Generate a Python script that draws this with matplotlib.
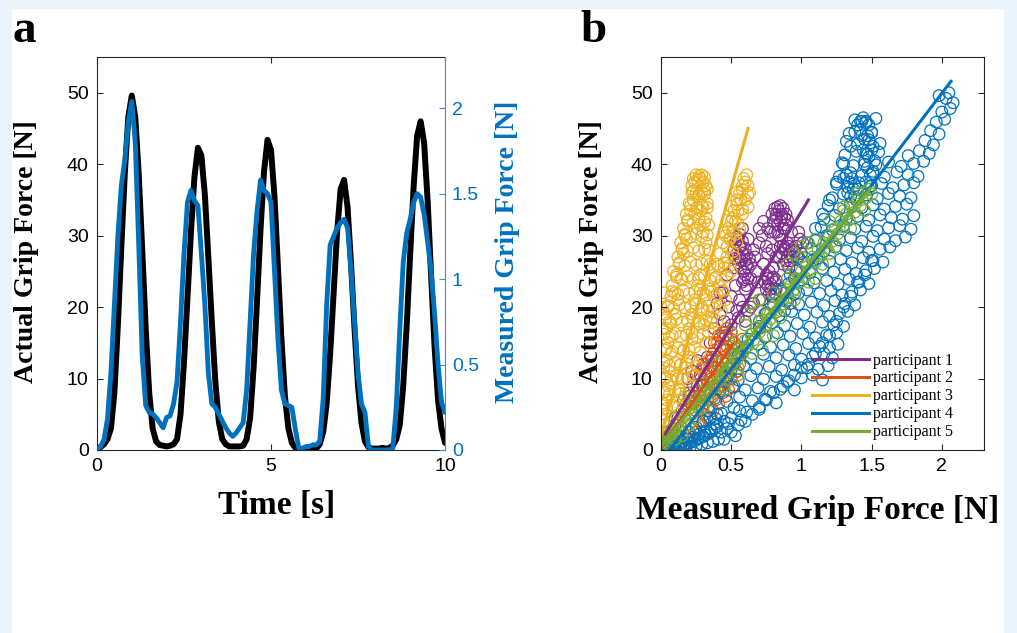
import matplotlib.pyplot as plt
from matplotlib.patches import Rectangle

# ---- panel a: time traces ----
time_s = [round(0.1 * i, 1) for i in range(101)]

actual_force = [
    0.2, 0.4, 0.8, 1.5, 3.0, 8.0, 17.5, 28.5, 38.8, 46.6,
    49.6, 46.6, 38.5, 28.0, 17.0, 8.0, 3.0, 1.2, 0.7, 0.6,
    0.5, 0.6, 0.8, 1.5, 5.0, 12.3, 21.3, 30.5, 38.2, 42.3,
    41.2, 35.7, 26.9, 17.9, 9.6, 4.0, 1.5, 0.8, 0.5, 0.5,
    0.5, 0.5, 0.6, 1.5, 4.5, 11.5, 21.0, 31.0, 39.0, 43.4,
    42.0, 35.5, 25.5, 15.5, 7.5, 3.0, 1.0, 0.3, 0.0, 0.0,
    0.0, 0.0, 0.1, 0.2, 0.8, 2.5, 6.5, 13.5, 22.0, 30.5,
    36.5, 37.8, 34.0, 26.0, 17.0, 9.0, 3.8, 1.2, 0.4, 0.2,
    0.2, 0.2, 0.3, 0.2, 0.3, 0.6, 1.5, 3.5, 9.0, 17.5,
    27.5, 37.0, 44.0, 46.0, 43.0, 35.0, 24.5, 14.5, 7.0, 3.0,
    1.0,
]

measured_force = [
    0.00, 0.02, 0.06, 0.18, 0.45, 0.85, 1.25, 1.55, 1.70, 1.92,
    2.04, 1.80, 1.20, 0.55, 0.26, 0.22, 0.21, 0.19, 0.16, 0.13,
    0.19, 0.20, 0.27, 0.40, 0.75, 1.15, 1.45, 1.52, 1.46, 1.43,
    1.15, 0.85, 0.45, 0.27, 0.25, 0.21, 0.17, 0.13, 0.10, 0.08,
    0.10, 0.13, 0.16, 0.35, 0.75, 1.15, 1.40, 1.58, 1.52, 1.50,
    1.45, 1.05, 0.65, 0.35, 0.27, 0.26, 0.25, 0.12, 0.01, 0.01,
    0.02, 0.02, 0.03, 0.03, 0.05, 0.30, 0.85, 1.20, 1.25, 1.30,
    1.33, 1.35, 1.30, 1.05, 0.75, 0.45, 0.27, 0.22, 0.02, 0.00,
    0.00, 0.00, 0.00, 0.00, 0.00, 0.01, 0.25, 0.70, 1.10, 1.27,
    1.35, 1.45, 1.50, 1.48, 1.38, 1.22, 1.05, 0.80, 0.50, 0.28,
    0.22,
]

# ---- panel b: actual vs measured per participant ----
p1_x = [0.02, 0.05, 0.08, 0.12, 0.15, 0.18, 0.20, 0.23, 0.25, 0.28, 0.30, 0.33, 0.22, 0.26, 0.19,
        0.38, 0.42, 0.45, 0.48, 0.50, 0.44, 0.40, 0.47, 0.53, 0.56, 0.60, 0.64, 0.67, 0.70, 0.73,
        0.62, 0.66, 0.69, 0.72, 0.76, 0.58, 0.52, 0.55,
        0.53, 0.55, 0.57, 0.54, 0.56, 0.58, 0.60, 0.57, 0.59, 0.61, 0.62, 0.60, 0.58, 0.62, 0.56,
        0.52, 0.54, 0.56, 0.58, 0.60, 0.61, 0.63, 0.59, 0.61, 0.55, 0.57, 0.53,
        0.80, 0.82, 0.84, 0.86, 0.88, 0.83, 0.85, 0.87, 0.81, 0.89, 0.84, 0.86,
        0.79, 0.81, 0.83, 0.85, 0.87, 0.89, 0.90, 0.82, 0.86, 0.88, 0.83,
        0.75, 0.77, 0.79, 0.81, 0.76, 0.78, 0.80, 0.82, 0.79,
        0.74, 0.76, 0.78, 0.80, 0.82, 0.77, 0.81, 0.75,
        0.84, 0.86, 0.88, 0.90, 0.92, 0.87, 0.89, 0.91, 0.94,
        0.85, 0.87, 0.89, 0.91, 0.93, 0.95, 0.90, 0.92,
        0.72, 0.75, 0.78, 0.90, 0.93, 0.96, 0.99, 1.01, 0.97, 0.95, 0.70, 0.74, 0.88, 0.92,
        0.42, 0.46, 0.50, 0.54, 0.60, 0.64, 0.68, 0.66, 0.70, 0.73, 0.76, 0.79, 0.82, 0.96, 0.98,
        1.00, 0.62, 0.58, 0.64, 0.70, 0.45, 0.35, 0.30, 0.25, 0.16, 0.10]
p1_y = [1.0, 2.0, 3.0, 4.5, 5.5, 6.5, 8.0, 9.0, 7.0, 10.5, 12.0, 13.0, 11.0, 12.5, 10.0,
        17.0, 19.0, 18.0, 20.0, 21.5, 22.0, 20.5, 24.5, 23.0, 21.0, 22.5, 24.0, 27.0, 29.0, 26.0,
        19.5, 20.5, 23.5, 21.0, 27.5, 20.0, 25.5, 18.5,
        29.0, 29.5, 28.5, 27.5, 27.0, 27.5, 26.5, 25.5, 25.0, 26.0, 25.5, 24.5, 23.5, 24.0, 28.5,
        28.0, 29.8, 30.2, 29.2, 28.2, 27.3, 26.8, 23.8, 23.0, 26.2, 26.5, 26.8,
        32.0, 33.0, 33.5, 33.0, 32.5, 31.5, 32.0, 31.0, 30.5, 31.5, 30.0, 29.5,
        33.0, 33.8, 34.0, 34.2, 33.8, 33.0, 32.2, 32.5, 32.5, 31.0, 30.5,
        24.5, 25.0, 24.0, 23.5, 23.0, 22.5, 25.5, 22.5, 21.5,
        23.5, 24.0, 23.2, 24.2, 23.8, 21.8, 22.0, 22.5,
        27.0, 27.5, 28.0, 27.0, 27.5, 26.0, 26.5, 25.5, 27.0,
        28.5, 28.6, 28.2, 28.5, 28.0, 27.8, 26.0, 26.5,
        30.0, 28.5, 30.5, 29.0, 30.5, 28.5, 29.5, 29.0, 27.0, 24.0, 17.0, 19.0, 22.0, 20.5,
        22.0, 16.0, 17.5, 19.5, 18.0, 20.0, 25.0, 28.0, 31.0, 32.0, 31.0, 28.0, 27.0, 25.0, 30.5,
        27.5, 29.5, 31.0, 26.0, 21.0, 14.0, 15.0, 9.0, 10.5, 7.0, 3.5]

p2_x = [0.40, 0.42, 0.44, 0.46, 0.48, 0.50, 0.52, 0.45, 0.47, 0.49, 0.51, 0.53, 0.38, 0.40, 0.42,
        0.44, 0.46, 0.48, 0.50, 0.36, 0.38, 0.40, 0.42, 0.44, 0.46, 0.34, 0.36, 0.38, 0.40, 0.42,
        0.44, 0.31, 0.33, 0.35, 0.37, 0.39, 0.41, 0.29, 0.31, 0.33, 0.35, 0.37, 0.27, 0.29, 0.31,
        0.33, 0.25, 0.27, 0.29, 0.23, 0.25, 0.20, 0.22, 0.18, 0.15, 0.12, 0.08, 0.05, 0.02, 0.54,
        0.48,
        0.55, 0.57, 0.56, 0.52, 0.54, 0.50, 0.52, 0.48, 0.46, 0.43, 0.39, 0.36, 0.34, 0.32, 0.30,
        0.28, 0.26, 0.24, 0.22, 0.44, 0.41, 0.47, 0.50, 0.38, 0.58]
p2_y = [15.0, 16.0, 16.5, 16.0, 15.5, 16.5, 15.0, 14.0, 14.5, 13.5, 14.0, 13.0, 14.0, 13.0, 14.5,
        12.5, 12.0, 11.5, 12.0, 12.5, 11.5, 11.0, 10.5, 10.0, 9.5, 11.0, 10.0, 9.0, 8.5, 9.0,
        8.0, 10.5, 9.5, 8.0, 7.5, 7.0, 6.5, 9.0, 8.0, 7.0, 6.0, 5.5, 7.5, 6.0, 5.0,
        4.5, 5.5, 4.0, 3.5, 3.0, 2.5, 2.0, 1.5, 1.5, 1.0, 0.8, 0.6, 0.4, 0.2, 11.0,
        10.5,
        14.5, 13.5, 12.0, 12.0, 11.0, 10.0, 9.0, 8.5, 7.5, 11.5, 12.5, 13.0, 12.5, 12.0, 11.5,
        10.5, 9.0, 7.5, 6.5, 15.5, 16.0, 17.0, 15.5, 15.0, 15.5]

p3_x = [0.00, 0.01, 0.02, 0.03, 0.01, 0.02, 0.04, 0.03, 0.05, 0.02, 0.04, 0.06, 0.03, 0.05, 0.07,
        0.04, 0.06, 0.08, 0.05, 0.07,
        0.08, 0.10, 0.09, 0.11, 0.12, 0.10, 0.13, 0.14, 0.12, 0.15, 0.16, 0.14, 0.17, 0.18, 0.16,
        0.19, 0.20, 0.18, 0.21, 0.22,
        0.22, 0.23, 0.24, 0.25, 0.26, 0.27, 0.28, 0.29, 0.30, 0.31, 0.32, 0.33, 0.23, 0.25, 0.27,
        0.29, 0.31, 0.33, 0.24, 0.26, 0.28, 0.30, 0.32, 0.34, 0.26, 0.28, 0.30, 0.32, 0.34, 0.35,
        0.20, 0.22, 0.24, 0.26, 0.28, 0.30, 0.27, 0.29, 0.31, 0.33, 0.35, 0.32, 0.34, 0.36, 0.38,
        0.12, 0.14, 0.16, 0.18, 0.20, 0.22, 0.24, 0.10, 0.13, 0.17,
        0.38, 0.40, 0.42, 0.41, 0.44, 0.46, 0.45, 0.48, 0.47, 0.50, 0.49, 0.52, 0.51, 0.54, 0.53,
        0.56, 0.55, 0.58, 0.57, 0.59, 0.60, 0.61, 0.62, 0.63, 0.58, 0.60, 0.62, 0.56, 0.54, 0.52,
        0.50, 0.46, 0.43, 0.40,
        0.01, 0.03, 0.00, 0.02,
        0.03, 0.07, 0.11, 0.02, 0.06, 0.10, 0.14, 0.01, 0.04, 0.08, 0.12, 0.16,
        0.02, 0.06, 0.10, 0.14, 0.18, 0.03, 0.07, 0.11, 0.15, 0.19, 0.23,
        0.02, 0.06, 0.10, 0.14, 0.18, 0.22, 0.26, 0.04, 0.08, 0.12, 0.16, 0.20, 0.24, 0.28,
        0.02, 0.06, 0.10, 0.14, 0.18, 0.22, 0.26, 0.30,
        0.03, 0.07, 0.11, 0.15, 0.19, 0.23, 0.27, 0.32, 0.36,
        0.05, 0.09, 0.13, 0.17, 0.21, 0.25, 0.29, 0.34, 0.38, 0.42,
        0.08, 0.12, 0.16, 0.20, 0.24, 0.28, 0.32, 0.36, 0.40, 0.44,
        0.11, 0.15, 0.19, 0.23, 0.27, 0.31, 0.35, 0.39, 0.43, 0.47,
        0.13, 0.17, 0.21, 0.25, 0.29, 0.33, 0.41, 0.45, 0.49,
        0.15, 0.19, 0.23, 0.27, 0.31, 0.47, 0.51,
        0.17, 0.21, 0.25, 0.29, 0.33, 0.45, 0.49, 0.53,
        0.19, 0.23, 0.27, 0.31, 0.47, 0.51, 0.55,
        0.21, 0.25, 0.29, 0.33, 0.50, 0.54, 0.58,
        0.23, 0.27, 0.31, 0.54, 0.58, 0.62]
p3_y = [0.5, 2.0, 3.5, 5.0, 6.5, 8.0, 7.0, 10.0, 9.0, 11.5, 12.5, 11.0, 14.0, 15.0, 13.5,
        17.0, 18.0, 16.0, 20.0, 21.5,
        23.0, 22.0, 25.0, 24.5, 27.0, 19.0, 26.0, 29.0, 21.0, 28.0, 31.0, 24.0, 30.0, 33.0, 27.5,
        32.0, 34.5, 29.5, 33.5, 36.0,
        37.0, 38.0, 37.5, 38.5, 37.8, 38.3, 38.0, 38.5, 37.5, 38.2, 37.0, 36.5, 35.0, 36.0, 35.5,
        36.2, 35.8, 34.5, 33.0, 34.0, 33.5, 34.0, 32.5, 31.5, 31.0, 31.5, 30.5, 29.0, 28.0, 26.0,
        17.0, 19.0, 21.0, 23.0, 24.5, 22.0, 18.0, 20.0, 17.5, 19.5, 22.5, 15.0, 16.5, 18.5, 21.5,
        10.0, 12.0, 14.0, 11.5, 13.0, 15.5, 10.5, 6.0, 8.5, 7.5,
        24.0, 26.0, 27.5, 23.0, 29.0, 30.0, 25.5, 31.0, 27.0, 32.0, 29.5, 33.5, 30.5, 35.0, 32.0,
        36.0, 33.5, 37.0, 35.0, 38.0, 37.5, 38.5, 37.0, 36.0, 33.0, 35.0, 34.0, 31.0, 29.0, 27.0,
        25.0, 21.0, 19.5, 18.0,
        17.0, 19.0, 20.0, 22.0,
        2.2, 1.8, 2.3, 4.1, 3.8, 4.3, 3.9, 6.2, 5.8, 6.3, 5.9, 6.1,
        8.2, 7.8, 8.3, 7.9, 8.1, 10.2, 9.8, 10.3, 9.9, 10.1, 10.4,
        12.2, 11.8, 12.3, 11.9, 12.1, 12.4, 11.7, 14.2, 13.8, 14.3, 13.9, 14.1, 14.4, 13.7,
        16.2, 15.8, 16.3, 15.9, 16.1, 16.4, 15.7, 16.2,
        18.2, 17.8, 18.3, 17.9, 18.1, 18.4, 17.7, 18.2, 17.8,
        20.2, 19.8, 20.3, 19.9, 20.1, 20.4, 19.7, 20.2, 19.8, 20.3,
        22.2, 21.8, 22.3, 21.9, 22.1, 22.4, 21.7, 22.2, 21.8, 22.3,
        24.2, 23.8, 24.3, 23.9, 24.1, 24.4, 23.7, 24.2, 23.8, 24.3,
        26.2, 25.8, 26.3, 25.9, 26.1, 26.4, 25.7, 26.2, 25.8,
        28.2, 27.8, 28.3, 27.9, 28.1, 28.4, 27.7,
        30.2, 29.8, 30.3, 29.9, 30.1, 30.4, 29.7, 30.2,
        32.2, 31.8, 32.3, 31.9, 32.1, 32.4, 31.7,
        34.2, 33.8, 34.3, 33.9, 34.1, 34.4, 33.7,
        36.2, 35.8, 36.3, 36.1, 36.4, 35.7]

p4_x = [0.00, 0.02, 0.04, 0.06, 0.08, 0.10, 0.12, 0.14, 0.16, 0.18, 0.20, 0.22, 0.24, 0.26, 0.28,
        0.30, 0.32, 0.34, 0.36, 0.38, 0.40, 0.05, 0.10, 0.15, 0.20, 0.25, 0.30, 0.35, 0.40, 0.45,
        0.01, 0.03, 0.05, 0.07, 0.09, 0.11, 0.13, 0.15, 0.17, 0.19, 0.21, 0.23, 0.25, 0.27, 0.29,
        0.31, 0.33, 0.35, 0.37, 0.39, 0.41, 0.43, 0.47, 0.50, 0.53, 0.56,
        0.45, 0.50, 0.55, 0.60, 0.65, 0.70, 0.75, 0.80, 0.85, 0.90, 0.95, 1.00, 1.05, 1.10, 1.15,
        1.20, 1.25, 1.30, 1.35, 1.40, 1.45, 1.50,
        0.55, 0.62, 0.70, 0.78, 0.85, 0.92, 0.98, 1.04, 1.10, 1.15, 1.20, 1.25, 1.30, 1.35, 1.38,
        1.40, 1.43, 1.18, 1.08, 0.98, 0.88,
        1.42, 1.44, 1.46, 1.48, 1.50, 1.43, 1.45, 1.47, 1.49, 1.51, 1.44, 1.46, 1.48, 1.50, 1.52,
        1.45, 1.47, 1.49, 1.51, 1.46, 1.48, 1.50, 1.30, 1.32, 1.34, 1.36, 1.38, 1.40, 1.33, 1.35,
        1.37, 1.39,
        0.30, 0.39, 0.48, 0.57,
        0.34, 0.43, 0.52, 0.61, 0.70,
        0.38, 0.47, 0.56, 0.65, 0.74, 0.82,
        0.42, 0.51, 0.60, 0.69, 0.78, 0.87, 0.95,
        0.46, 0.55, 0.64, 0.73, 0.82, 0.91, 1.00, 1.08, 1.15,
        0.50, 0.59, 0.68, 0.77, 0.86, 0.95, 1.04, 1.12, 1.19,
        0.55, 0.64, 0.73, 0.82, 0.91, 1.00, 1.08, 1.16, 1.22,
        0.60, 0.69, 0.78, 0.87, 0.96, 1.05, 1.13, 1.20, 1.26,
        0.65, 0.74, 0.83, 0.92, 1.01, 1.10, 1.18, 1.25,
        0.70, 0.79, 0.88, 0.97, 1.06, 1.15, 1.23, 1.30,
        0.75, 0.84, 0.93, 1.02, 1.11, 1.20, 1.27, 1.33,
        0.80, 0.89, 0.98, 1.07, 1.16, 1.24, 1.31, 1.38,
        0.86, 0.95, 1.04, 1.13, 1.21, 1.29, 1.36, 1.42,
        0.91, 1.00, 1.09, 1.18, 1.26, 1.34, 1.41, 1.48,
        0.97, 1.06, 1.15, 1.23, 1.31, 1.39, 1.46, 1.52,
        1.02, 1.11, 1.20, 1.28, 1.36, 1.44, 1.51, 1.58,
        1.07, 1.16, 1.24, 1.32, 1.40, 1.48, 1.56, 1.63,
        1.10, 1.19, 1.27, 1.35, 1.43, 1.51, 1.59, 1.67, 1.74,
        1.14, 1.22, 1.30, 1.38, 1.46, 1.54, 1.62, 1.70, 1.78,
        1.16, 1.24, 1.32, 1.40, 1.48, 1.56, 1.64, 1.72, 1.80,
        1.19, 1.27, 1.35, 1.43, 1.51, 1.59, 1.67, 1.75,
        1.22, 1.30, 1.38, 1.46, 1.54, 1.62, 1.70, 1.78,
        1.25, 1.33, 1.41, 1.49, 1.57, 1.65, 1.73, 1.80,
        1.27, 1.35, 1.43, 1.51, 1.59, 1.68, 1.76, 1.83,
        1.29, 1.37, 1.45, 1.53, 1.62, 1.71, 1.80, 1.87,
        1.31, 1.39, 1.47, 1.55, 1.76, 1.84, 1.91,
        1.32, 1.40, 1.48, 1.56, 1.88, 1.94,
        1.34, 1.42, 1.50, 1.92, 1.98,
        1.38, 1.46, 1.53, 1.96, 2.02,
        2.00, 2.06, 2.03, 2.08, 2.05, 1.98]
p4_y = [0.0, 0.1, 0.2, 0.2, 0.3, 0.4, 0.5, 0.6, 0.7, 0.8, 1.0, 1.1, 1.3, 1.5, 1.7,
        1.9, 2.1, 2.4, 2.7, 3.0, 3.3, 0.8, 1.2, 1.8, 2.5, 3.2, 4.0, 4.5, 5.0, 4.0,
        0.5, 0.8, 0.3, 0.9, 0.2, 1.0, 0.3, 1.2, 0.4, 1.5, 0.5, 1.8, 0.6, 2.2, 0.8,
        2.6, 1.0, 3.0, 1.2, 3.6, 1.5, 2.5, 3.0, 4.5, 2.0, 5.5,
        1.5, 2.5, 3.5, 4.0, 5.0, 6.0, 7.0, 8.0, 8.5, 9.5, 10.5, 11.5, 12.0, 13.5, 15.0,
        16.0, 18.0, 20.0, 21.5, 23.5, 24.5, 26.5,
        13.5, 15.5, 18.0, 20.5, 22.5, 24.5, 27.0, 29.0, 31.0, 33.0, 35.0, 37.5, 40.0, 42.5, 44.5,
        45.5, 46.0, 30.0, 26.5, 22.0, 19.5,
        46.0, 46.5, 46.0, 45.5, 44.5, 44.0, 43.5, 44.0, 43.0, 42.5, 42.0, 41.5, 41.0, 42.0, 40.5,
        40.0, 39.5, 38.5, 39.0, 37.5, 36.5, 37.0, 38.0, 38.5, 37.5, 38.0, 37.0, 36.5, 36.0, 35.5,
        36.5, 35.0,
        4.0, 4.4, 3.7, 4.2,
        5.5, 5.1, 5.9, 5.3, 5.7,
        7.2, 6.8, 7.4, 6.9, 7.1, 6.6,
        8.3, 8.8, 8.4, 8.7, 8.2, 8.9, 8.4,
        10.2, 9.8, 10.4, 9.9, 10.3, 9.7, 10.1, 10.5, 9.8,
        11.3, 11.8, 11.4, 11.7, 11.2, 11.9, 11.5, 11.3, 11.8,
        13.2, 12.8, 13.4, 12.9, 13.3, 12.7, 13.1, 13.5, 12.9,
        14.3, 14.8, 14.4, 14.7, 14.2, 14.9, 14.5, 14.3, 14.8,
        16.2, 15.8, 16.4, 15.9, 16.3, 15.7, 16.1, 16.4,
        17.3, 17.8, 17.4, 17.7, 17.2, 17.9, 17.5, 17.3,
        19.2, 18.8, 19.4, 18.9, 19.3, 18.7, 19.1, 19.4,
        20.3, 20.8, 20.4, 20.7, 20.2, 20.9, 20.5, 20.3,
        22.2, 21.8, 22.4, 21.9, 22.3, 21.7, 22.1, 22.4,
        23.3, 23.8, 23.4, 23.7, 23.2, 23.9, 23.5, 23.3,
        25.2, 24.8, 25.4, 24.9, 25.3, 24.7, 25.1, 25.4,
        26.3, 26.8, 26.4, 26.7, 26.2, 26.9, 26.5, 26.3,
        28.2, 27.8, 28.4, 27.9, 28.3, 27.7, 28.1, 28.4,
        29.3, 29.8, 29.4, 29.7, 29.2, 29.9, 29.5, 29.3, 29.8,
        31.2, 30.8, 31.4, 30.9, 31.3, 30.7, 31.1, 31.4, 30.9,
        32.3, 32.8, 32.4, 32.7, 32.2, 32.9, 32.5, 32.3, 32.8,
        34.2, 33.8, 34.4, 33.9, 34.3, 33.7, 34.1, 34.4,
        35.3, 35.8, 35.4, 35.7, 35.2, 35.9, 35.5, 35.3,
        37.2, 36.8, 37.4, 36.9, 37.3, 36.7, 37.1, 37.4,
        38.3, 38.8, 38.4, 38.7, 38.2, 38.9, 38.5, 38.3,
        40.2, 39.8, 40.4, 39.9, 40.3, 39.7, 40.1, 40.4,
        41.3, 41.8, 41.4, 41.7, 41.2, 41.9, 41.5,
        43.2, 42.8, 43.4, 42.9, 43.3, 42.7,
        44.3, 44.8, 44.4, 44.7, 44.2,
        46.2, 45.8, 46.4, 45.9, 46.3,
        47.3, 47.8, 49.2, 48.6, 50.0, 49.6]

p5_x = [0.00, 0.01, 0.02, 0.03, 0.04, 0.05, 0.06, 0.07, 0.08, 0.09, 0.10, 0.12, 0.14, 0.16, 0.18,
        0.20, 0.22, 0.24, 0.26, 0.28, 0.30, 0.32, 0.34, 0.36, 0.38, 0.40, 0.42, 0.44, 0.46, 0.48,
        0.50, 0.52, 0.54, 0.56, 0.58, 0.60, 0.62, 0.64, 0.66, 0.68, 0.70, 0.72, 0.74, 0.76, 0.78,
        0.80, 0.82, 0.84, 0.86, 0.88, 0.90, 0.92, 0.94, 0.96, 0.98, 1.00, 1.02, 1.04, 1.06, 1.08,
        1.10, 1.12, 1.14, 1.16, 1.18, 1.20, 1.22, 1.24, 1.26, 1.28, 1.30, 1.32, 1.34, 1.36, 1.38,
        1.40, 1.42, 1.44, 1.46, 1.48, 1.50,
        0.60, 0.65, 0.70, 0.75, 0.80, 0.72, 0.85, 0.90, 0.95, 1.00, 1.05, 1.10, 0.50, 0.55, 0.45,
        1.20, 1.30, 0.40, 0.30, 0.20, 0.10, 0.05,
        0.10, 0.20, 0.30, 0.40, 0.50, 0.60, 0.70, 0.80, 0.90, 1.00, 1.10, 1.20, 1.30, 1.40,
        0.15, 0.25, 0.35, 0.45, 0.55, 0.65, 0.75, 0.85, 0.95, 1.05, 1.15, 1.25, 1.35, 1.45]
p5_y = [0.6, 1.2, 0.5, 1.6, 0.9, 2.0, 1.3, 2.4, 1.8, 2.9, 2.2, 3.8, 3.2, 4.6, 4.1,
        5.8, 5.0, 6.6, 6.0, 7.5, 6.9, 8.6, 7.9, 9.4, 8.8, 10.5, 9.8, 11.4, 10.8, 12.4,
        11.9, 13.3, 12.6, 14.2, 13.5, 15.3, 14.6, 16.2, 15.4, 17.1, 16.5, 18.2, 17.3, 19.0, 18.4,
        20.0, 19.3, 21.0, 20.4, 22.1, 21.3, 23.0, 22.3, 24.0, 23.4, 25.0, 24.2, 26.0, 25.2, 27.0,
        26.3, 28.0, 27.2, 29.0, 28.3, 30.0, 29.2, 31.0, 30.3, 32.0, 31.2, 33.0, 32.2, 34.0, 33.3,
        35.0, 34.2, 36.0, 35.3, 36.5, 35.8,
        19.0, 20.5, 21.0, 17.5, 16.0, 14.0, 19.5, 26.0, 27.5, 28.5, 29.0, 24.0, 16.5, 10.5, 8.5,
        27.5, 34.0, 12.0, 6.0, 3.5, 1.5, 2.5,
        4.5, 7.5, 9.5, 12.5, 14.5, 17.5, 19.5, 22.0, 24.0, 27.0, 29.5, 32.0, 33.5, 36.0,
        2.0, 4.5, 7.0, 9.0, 11.5, 13.5, 16.0, 18.5, 21.0, 23.5, 26.0, 28.5, 31.0, 33.5]

# linear fit end points (measured, actual)
fit_x = [[0.03, 1.05], [0.00, 0.50], [0.00, 0.62], [0.06, 2.065], [0.00, 1.49]]
fit_y = [[2.2, 35.0], [0.3, 14.5], [2.0, 45.0], [0.0, 51.6], [0.5, 36.6]]

participants = ["participant 1", "participant 2", "participant 3", "participant 4", "participant 5"]
colors = ["#7E2F8E", "#D95319", "#EDB120", "#0072BD", "#77AC30"]

W, H = 1017, 633
SERIF = "Liberation Serif"
plt.rcParams["font.family"] = ["Liberation Sans", "DejaVu Sans"]

fig = plt.figure(figsize=(W / 100, H / 100), dpi=100)
fig.patch.set_facecolor("#e8f3fa")
fig.add_artist(Rectangle((12 / W, 0), (1003 - 12) / W, (H - 9) / H,
                         transform=fig.transFigure, color="white", zorder=-1))

axis_grey = "#262626"

# panel a
ax1 = fig.add_axes([97 / W, 1 - 450 / H, 348 / W, 393 / H])
ax1.plot(time_s, actual_force, color="black", lw=4.3, solid_capstyle="round")
ax1.set_xlim(0, 10)
ax1.set_ylim(0, 55)
ax1.set_xticks([0, 5, 10])
ax1.set_yticks([0, 10, 20, 30, 40, 50])
ax1.tick_params(direction="in", length=4, width=0.8, labelsize=14, pad=6,
                top=True, right=False, colors=axis_grey, labelcolor="black")
for s in ["left", "top", "bottom"]:
    ax1.spines[s].set_color(axis_grey)
    ax1.spines[s].set_linewidth(0.8)
ax1.spines["right"].set_visible(False)

ax2 = ax1.twinx()
ax2.plot(time_s, measured_force, color="#0072BD", lw=3.5, solid_capstyle="round")
ax2.set_ylim(0, 2.3)
ax2.set_yticks([0, 0.5, 1, 1.5, 2])
ax2.set_yticklabels(["0", "0.5", "1", "1.5", "2"])
ax2.tick_params(direction="in", length=4, width=0.8, labelsize=14, pad=5,
                colors="#3d8fd0", labelcolor="#0072BD")
for s in ["left", "top", "bottom"]:
    ax2.spines[s].set_visible(False)
ax2.spines["right"].set_color("#3d8fd0")
ax2.spines["right"].set_linewidth(0.8)

fig.text(27 / W, 1 - 252 / H, "Actual Grip Force [N]", rotation=90, ha="center", va="center",
         fontsize=20, fontweight="bold", family=SERIF)
fig.text(508 / W, 1 - 252 / H, "Measured Grip Force [N]", rotation=90, ha="center", va="center",
         fontsize=20, fontweight="bold", family=SERIF, color="#0072BD")
fig.text(277 / W, 1 - 505 / H, "Time [s]", ha="center", va="center",
         fontsize=24, fontweight="bold", family=SERIF)
fig.text(13 / W, 1 - 42 / H, "a", ha="left", va="baseline",
         fontsize=34, fontweight="bold", family=SERIF)

# panel b
ax3 = fig.add_axes([661 / W, 1 - 450 / H, 323 / W, 393 / H])
xs = [p1_x, p2_x, p3_x, p4_x, p5_x]
ys = [p1_y, p2_y, p3_y, p4_y, p5_y]
handles = []
for i in range(5):
    ax3.scatter(xs[i], ys[i], s=70, facecolors="none", edgecolors=colors[i], linewidths=0.9)
    h, = ax3.plot(fit_x[i], fit_y[i], color=colors[i], lw=2.2)
    handles.append(h)
ax3.set_xlim(0, 2.3)
ax3.set_ylim(0, 55)
ax3.set_xticks([0, 0.5, 1, 1.5, 2])
ax3.set_xticklabels(["0", "0.5", "1", "1.5", "2"])
ax3.set_yticks([0, 10, 20, 30, 40, 50])
ax3.tick_params(direction="in", length=4, width=0.8, labelsize=14, pad=6,
                top=True, right=True, colors=axis_grey, labelcolor="black")
for s in ax3.spines.values():
    s.set_color(axis_grey)
    s.set_linewidth(0.8)

leg = ax3.legend(handles, participants, loc="lower right", bbox_to_anchor=(0.905, 0.025),
                 frameon=False, handlelength=3.6, handletextpad=0.25,
                 labelspacing=0.12, borderaxespad=0, borderpad=0,
                 prop={"family": SERIF, "size": 11.5})

fig.text(592 / W, 1 - 252 / H, "Actual Grip Force [N]", rotation=90, ha="center", va="center",
         fontsize=20, fontweight="bold", family=SERIF)
fig.text(818 / W, 1 - 510 / H, "Measured Grip Force [N]", ha="center", va="center",
         fontsize=24, fontweight="bold", family=SERIF)
fig.text(580 / W, 1 - 42 / H, "b", ha="left", va="baseline",
         fontsize=34, fontweight="bold", family=SERIF)

fig.savefig("out.png", dpi=100, facecolor=fig.get_facecolor())
